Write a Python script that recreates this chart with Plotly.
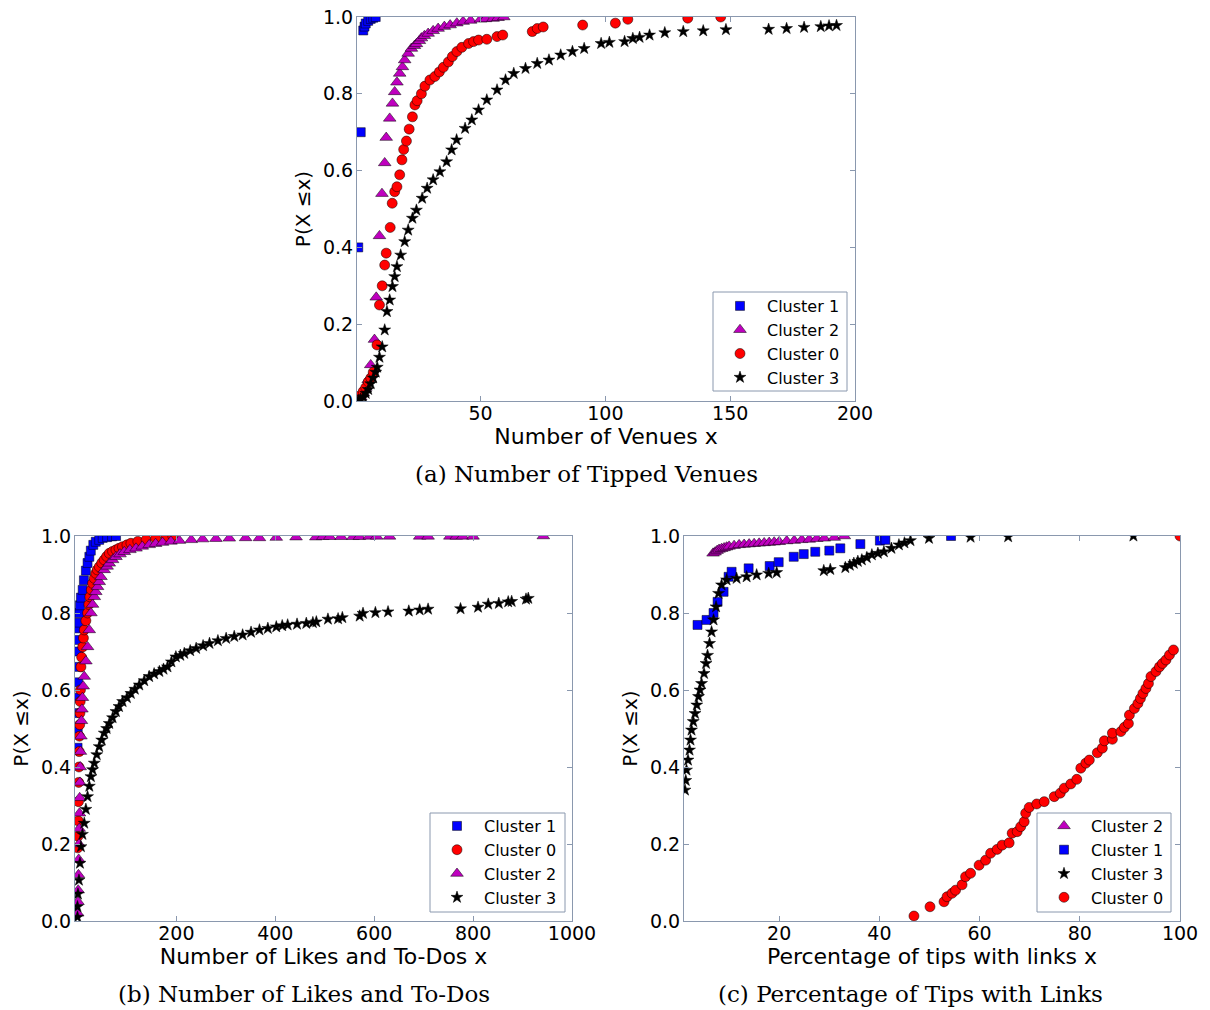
import plotly.graph_objects as go

# ---------------- (a) Number of Tipped Venues ----------------
a_c1_x = [1, 2, 3, 3.5, 4, 5, 6, 7, 8]
a_c1_y = [0.40, 0.70, 0.965, 0.975, 0.983, 0.99, 0.995, 0.998, 1.0]

a_c2_x = [1, 2, 3, 4, 5, 6, 7.5, 8.2, 9.5, 10.5, 11.6, 12.2, 13.6, 14.7, 15.6, 16.5, 17.6, 18.7, 19.6, 21,
          22.3, 23.5, 24.3, 25.5, 26.3, 27.5, 29, 31, 33, 35.5, 37.8, 40.5, 43, 46, 50, 52, 55, 57, 59.3]
a_c2_y = [0.002, 0.01, 0.02, 0.035, 0.055, 0.094, 0.16, 0.27, 0.43, 0.54, 0.62, 0.686, 0.736, 0.775, 0.805, 0.83,
          0.853, 0.87, 0.888, 0.905, 0.918, 0.925, 0.93, 0.938, 0.945, 0.951, 0.957, 0.964, 0.97, 0.975, 0.979,
          0.984, 0.988, 0.991, 0.994, 0.995, 0.996, 0.998, 1.0]

a_c0_x = [1, 2, 3, 4, 5, 6, 7, 8.5, 9.5, 10.6, 11.6, 12.2, 13.8, 14.6, 15.6, 16.5, 17.6, 18.5, 19.2, 20.3,
          21.4, 22.7, 23.7, 24.6, 26.3, 27.7, 29.7, 31.7, 33.5, 35.1, 37.1, 38.7, 40.5, 42.5, 45.2, 47.2, 49.2,
          52.5, 56.6, 58.9, 70.7, 72.7, 75.1, 90.9, 104, 109, 133, 146.2]
a_c0_y = [0.005, 0.015, 0.025, 0.035, 0.05, 0.06, 0.075, 0.146, 0.25, 0.30, 0.354, 0.385, 0.452, 0.515, 0.545,
          0.558, 0.589, 0.628, 0.655, 0.677, 0.708, 0.74, 0.771, 0.782, 0.80, 0.82, 0.836, 0.845, 0.857, 0.869,
          0.883, 0.897, 0.91, 0.921, 0.931, 0.936, 0.94, 0.942, 0.949, 0.953, 0.962, 0.97, 0.974, 0.979, 0.984,
          0.994, 0.997, 1.0]

a_c3_x = [1, 2, 3, 4, 5, 6, 7, 8, 8.6, 9.5, 10.6, 11.6, 12.5, 13.6, 14.7, 15.6, 16.5, 18, 19.6, 21, 22.7, 24.3,
          26.6, 28.6, 31, 33.7, 36.4, 38.4, 40.4, 43.8, 46.5, 49.2, 52.5, 56.6, 60, 63.3, 68, 72.7, 77.4, 82.1,
          86.8, 91.5, 98.3, 101.6, 107.7, 111, 113.7, 117.7, 123.8, 131.2, 139.2, 148.3, 165.4, 172.6, 179.6,
          186.3, 189.6, 192.6]
a_c3_y = [0.002, 0.005, 0.01, 0.02, 0.03, 0.045, 0.06, 0.075, 0.088, 0.114, 0.141, 0.185, 0.233, 0.263, 0.298,
          0.324, 0.35, 0.38, 0.415, 0.445, 0.476, 0.497, 0.528, 0.554, 0.576, 0.597, 0.623, 0.654, 0.68, 0.71,
          0.732, 0.758, 0.784, 0.81, 0.836, 0.853, 0.866, 0.879, 0.888, 0.901, 0.91, 0.918, 0.931, 0.934, 0.936,
          0.944, 0.947, 0.953, 0.959, 0.962, 0.964, 0.967, 0.968, 0.97, 0.973, 0.975, 0.977, 0.978]

# ---------------- (b) Number of Likes and To-Dos ----------------
b_c1_x = [0.2, 0.5, 0.8, 1.1, 1.4, 1.7, 2, 2.5, 3, 3.5, 4, 5, 7, 10.5, 13, 17, 20.4, 24, 27, 32, 37, 44, 51,
          60, 70, 78]
b_c1_y = [0.45, 0.50, 0.54, 0.58, 0.62, 0.66, 0.70, 0.73, 0.76, 0.775, 0.80, 0.82, 0.84, 0.86, 0.885, 0.91,
          0.93, 0.946, 0.962, 0.977, 0.985, 0.99, 0.995, 0.997, 0.999, 1.0]

b_c0_x = [0.5, 1, 1.5, 2, 2.5, 3, 3.5, 4, 4.5, 5, 5.5, 6, 7, 8.5, 10.5, 12, 13.7, 17, 20.4, 23, 25, 28, 30.5,
          34, 37, 40, 44, 49, 54, 59, 64.3, 71, 77.8, 84, 91, 100, 108, 122, 138.7, 158, 179, 192.6]
b_c0_y = [0.19, 0.22, 0.26, 0.31, 0.36, 0.40, 0.44, 0.48, 0.51, 0.54, 0.57, 0.60, 0.66, 0.685, 0.712, 0.735,
          0.756, 0.78, 0.80, 0.822, 0.842, 0.86, 0.877, 0.89, 0.903, 0.912, 0.92, 0.93, 0.938, 0.947, 0.955,
          0.96, 0.964, 0.968, 0.972, 0.977, 0.981, 0.986, 0.99, 0.994, 0.997, 1.0]

b_c2_x = [0.5, 1, 1.5, 2, 2.5, 3, 3.5, 4, 4.5, 5, 5.5, 6, 7, 8, 9, 10, 11.5, 13.7, 17, 20.4, 23.8, 27.2, 30.5,
          34, 37, 40.6, 44, 47.5, 54, 60, 64.3, 71, 77.8, 86, 94.7, 106, 118.4, 131, 145, 158, 172, 189, 206,
          230, 253, 280, 307, 340, 368, 402, 442, 482, 496, 510, 533, 557, 570, 590, 605, 631, 692, 709, 753,
          766, 779, 800, 942]
b_c2_y = [0.02, 0.05, 0.08, 0.12, 0.16, 0.20, 0.24, 0.28, 0.32, 0.36, 0.40, 0.44, 0.48, 0.52, 0.55, 0.58,
          0.61, 0.635, 0.675, 0.712, 0.756, 0.80, 0.822, 0.842, 0.855, 0.868, 0.881, 0.894, 0.912, 0.921,
          0.929, 0.938, 0.946, 0.953, 0.959, 0.964, 0.968, 0.973, 0.977, 0.98, 0.983, 0.986, 0.988, 0.99,
          0.992, 0.993, 0.994, 0.995, 0.995, 0.996, 0.997, 0.997, 0.998, 0.998, 0.998, 0.998, 0.998, 0.999,
          0.999, 0.999, 0.999, 0.999, 0.999, 0.999, 0.999, 0.999, 1.0]

b_c3_x = [0, 0, 1, 3, 5, 7, 10, 13.7, 17, 20.4, 24, 27.2, 30.5, 34, 39, 44, 49, 54.2, 59, 64.3, 71, 77.8, 84,
          91.3, 100, 108, 116, 125, 135, 145, 155, 165.6, 174, 182, 190, 199, 208, 216, 228, 240, 254, 267,
          284, 300.6, 317, 334, 351, 368, 385, 402, 414, 425, 444, 462.7, 476, 483, 506.5, 527, 535.6, 570.6,
          577.4, 602.4, 628, 670, 692, 709, 774.6, 810, 830.6, 852, 871, 878, 907, 911.6]
b_c3_y = [0.01, 0.037, 0.07, 0.106, 0.15, 0.193, 0.225, 0.254, 0.29, 0.323, 0.35, 0.375, 0.393, 0.41, 0.432,
          0.453, 0.47, 0.488, 0.5, 0.513, 0.528, 0.544, 0.557, 0.57, 0.58, 0.591, 0.602, 0.613, 0.624, 0.635,
          0.642, 0.648, 0.654, 0.66, 0.673, 0.686, 0.69, 0.695, 0.702, 0.708, 0.715, 0.721, 0.728, 0.734,
          0.739, 0.743, 0.75, 0.756, 0.76, 0.764, 0.767, 0.769, 0.771, 0.773, 0.775, 0.777, 0.784, 0.785,
          0.788, 0.792, 0.799, 0.801, 0.803, 0.805, 0.808, 0.81, 0.811, 0.815, 0.823, 0.825, 0.829, 0.83,
          0.836, 0.838]

# ---------------- (c) Percentage of Tips with Links ----------------
c_c2_x = [6.8, 7.2, 7.6, 8.0, 8.5, 9, 9.5, 10, 11, 12, 13, 14, 15, 16, 17, 18, 19, 20, 21.5, 23, 24.5, 26,
          27.5, 29, 31, 33]
c_c2_y = [0.955, 0.958, 0.962, 0.965, 0.967, 0.969, 0.971, 0.973, 0.975, 0.977, 0.978, 0.979, 0.98, 0.981,
          0.982, 0.983, 0.984, 0.985, 0.987, 0.988, 0.99, 0.991, 0.993, 0.994, 0.996, 1.0]

c_c1_x = [3.7, 5.5, 6.9, 7.7, 8.9, 9.9, 10.5, 13.9, 18.1, 19.9, 22.9, 24.9, 27.2, 30, 32.2, 36.2, 40.1, 41.2,
          54.3]
c_c1_y = [0.769, 0.782, 0.80, 0.829, 0.855, 0.894, 0.907, 0.916, 0.922, 0.932, 0.946, 0.953, 0.959, 0.962,
          0.968, 0.979, 0.988, 0.99, 1.0]

c_c3_x = [1.2, 1.35, 1.5, 1.8, 2.1, 2.3, 2.5, 2.85, 3.2, 3.55, 3.9, 4.2, 4.5, 5.0, 5.4, 5.7, 6.1, 6.5, 6.9,
          7.4, 7.9, 8.5, 9.5, 11.5, 13.5, 15.5, 17.9, 19.5, 28.9, 30.2, 33.2, 34.1, 34.9, 35.7, 36.5, 37.5,
          38.5, 39.7, 40.9, 42.4, 43.9, 45, 46.2, 49.9, 58.2, 65.7, 90.7]
c_c3_y = [0.34, 0.365, 0.392, 0.418, 0.444, 0.47, 0.496, 0.518, 0.539, 0.561, 0.583, 0.60, 0.617, 0.643,
          0.669, 0.69, 0.721, 0.751, 0.782, 0.816, 0.851, 0.873, 0.886, 0.89, 0.894, 0.899, 0.903, 0.905,
          0.91, 0.913, 0.918, 0.924, 0.929, 0.934, 0.938, 0.944, 0.951, 0.955, 0.959, 0.968, 0.977, 0.982,
          0.988, 0.994, 0.997, 0.998, 1.0]

c_c0_x = [46.9, 50.1, 52.9, 53.5, 54.5, 55.2, 56.5, 57.2, 58.2, 59.9, 61.2, 62.2, 63.5, 64.5, 65.9, 66.5,
          67.5, 68.2, 68.9, 69.2, 69.9, 71.4, 72.9, 74.9, 76.1, 76.9, 78.2, 79.4, 80.2, 81.2, 81.9, 83.5,
          84.5, 84.9, 86.5, 86.5, 88.2, 88.9, 89.7, 89.9, 90.9, 91.6, 92.1, 92.6, 93.2, 93.7, 94.2, 95.2,
          95.9, 96.5, 97.2, 97.9, 98.7, 100]
c_c0_y = [0.013, 0.037, 0.05, 0.063, 0.072, 0.08, 0.094, 0.115, 0.124, 0.145, 0.158, 0.176, 0.186, 0.197,
          0.203, 0.228, 0.232, 0.245, 0.258, 0.28, 0.295, 0.304, 0.31, 0.323, 0.332, 0.345, 0.356, 0.368,
          0.397, 0.41, 0.418, 0.437, 0.449, 0.468, 0.472, 0.488, 0.492, 0.503, 0.513, 0.535, 0.552, 0.565,
          0.578, 0.591, 0.604, 0.617, 0.635, 0.648, 0.66, 0.669, 0.678, 0.691, 0.704, 1.0]

y_ticks = [0.0, 0.2, 0.4, 0.6, 0.8, 1.0]
y_tick_text = ["0.0", "0.2", "0.4", "0.6", "0.8", "1.0"]
a_x_ticks = [50, 100, 150, 200]
b_x_ticks = [200, 400, 600, 800, 1000]
c_x_ticks = [20, 40, 60, 80, 100]

FRAME = "#8a98ae"
STYLES = {
    "Cluster 1": dict(symbol="square", color="#0000ff", size=9),
    "Cluster 2": dict(symbol="triangle-up", color="#bf00bf", size=11),
    "Cluster 0": dict(symbol="circle", color="#ff0000", size=10),
    "Cluster 3": dict(symbol="star", color="#000000", size=9),
}

fig = go.Figure()


def add(name, xs, ys, xa, ya, legend):
    st = STYLES[name]
    fig.add_trace(go.Scatter(
        x=xs, y=ys, mode="markers", name=name, xaxis=xa, yaxis=ya, legend=legend,
        marker=dict(symbol=st["symbol"], color=st["color"], size=st["size"],
                    line=dict(color="#000000", width=0.5)),
        showlegend=True))


add("Cluster 1", a_c1_x, a_c1_y, "x", "y", "legend")
add("Cluster 2", a_c2_x, a_c2_y, "x", "y", "legend")
add("Cluster 0", a_c0_x, a_c0_y, "x", "y", "legend")
add("Cluster 3", a_c3_x, a_c3_y, "x", "y", "legend")

add("Cluster 1", b_c1_x, b_c1_y, "x2", "y2", "legend2")
add("Cluster 0", b_c0_x, b_c0_y, "x2", "y2", "legend2")
add("Cluster 2", b_c2_x, b_c2_y, "x2", "y2", "legend2")
add("Cluster 3", b_c3_x, b_c3_y, "x2", "y2", "legend2")

add("Cluster 2", c_c2_x, c_c2_y, "x3", "y3", "legend3")
add("Cluster 1", c_c1_x, c_c1_y, "x3", "y3", "legend3")
add("Cluster 3", c_c3_x, c_c3_y, "x3", "y3", "legend3")
add("Cluster 0", c_c0_x, c_c0_y, "x3", "y3", "legend3")

W, H = 1210, 1010


def xdom(l, r):
    return [l / W, r / W]


def ydom(t, b):
    return [1 - b / H, 1 - t / H]


tickfont = dict(family="DejaVu Sans", size=19, color="#000000")
xtitlefont = dict(family="DejaVu Sans", size=22, color="#000000")
ytitlefont = dict(family="DejaVu Sans", size=20, color="#000000")


def xaxis(dom, rng, ticks, title, anchor):
    return dict(domain=dom, range=rng, tickvals=ticks, ticktext=[str(t) for t in ticks],
                ticks="inside", ticklen=5, tickcolor=FRAME, tickwidth=1,
                showline=True, linecolor=FRAME, linewidth=1.2, mirror="ticks",
                showgrid=False, zeroline=False, tickfont=tickfont, anchor=anchor,
                automargin=False, ticklabelstandoff=-5,
                title=dict(text=title, font=xtitlefont, standoff=2))


def yaxis(dom, anchor):
    return dict(domain=dom, range=[0, 1], tickvals=y_ticks, ticktext=y_tick_text,
                ticks="inside", ticklen=5, tickcolor=FRAME, tickwidth=1,
                showline=True, linecolor=FRAME, linewidth=1.2, mirror="ticks",
                showgrid=False, zeroline=False, tickfont=tickfont, anchor=anchor,
                automargin=False, ticklabelstandoff=-1,
                title=dict(text="P(X ≤x)", font=ytitlefont, standoff=6))


legend_common = dict(bgcolor="rgba(0,0,0,0)", borderwidth=0,
                     font=dict(family="DejaVu Sans", size=16, color="#000000"),
                     xanchor="left", yanchor="top", itemsizing="trace", itemwidth=44,
                     tracegroupgap=0)

# legend frames (pixel boxes: left, top, right, bottom)
legend_boxes = [(713, 292, 847, 391), (430, 813, 565, 912), (1037, 813, 1171, 912)]

fig.update_layout(
    width=W, height=H, margin=dict(l=0, r=0, t=0, b=0, autoexpand=False),
    paper_bgcolor="#ffffff", plot_bgcolor="#ffffff",
    showlegend=True,
    xaxis=xaxis(xdom(357, 855), [0.5, 200], a_x_ticks, "Number of Venues x", "y"),
    yaxis=yaxis(ydom(17, 401), "x"),
    xaxis2=xaxis(xdom(75, 572), [-5, 1000], b_x_ticks, "Number of Likes and To-Dos x", "y2"),
    yaxis2=yaxis(ydom(536, 921), "x2"),
    xaxis3=xaxis(xdom(684, 1180), [1, 100], c_x_ticks, "Percentage of tips with links x", "y3"),
    yaxis3=yaxis(ydom(536, 921), "x3"),
    legend=dict(x=713 / W, y=1 - 289 / H, **legend_common),
    legend2=dict(x=430 / W, y=1 - 809 / H, **legend_common),
    legend3=dict(x=1037 / W, y=1 - 809 / H, **legend_common),
)

for (l, t, r, b) in legend_boxes:
    fig.add_shape(type="rect", xref="paper", yref="paper",
                  x0=l / W, x1=r / W, y0=1 - b / H, y1=1 - t / H,
                  line=dict(color=FRAME, width=1), fillcolor="#ffffff", layer="above")

caption_font = dict(family="DejaVu Serif", size=23, color="#000000")
captions = [("(a) Number of Tipped Venues", 586, 474),
            ("(b) Number of Likes and To-Dos", 304, 994),
            ("(c) Percentage of Tips with Links", 910, 994)]
for text, cx, cy in captions:
    fig.add_annotation(text=text, x=cx / W, y=1 - cy / H, xref="paper", yref="paper",
                       showarrow=False, xanchor="center", yanchor="middle", font=caption_font)

fig.write_html("out.html")
